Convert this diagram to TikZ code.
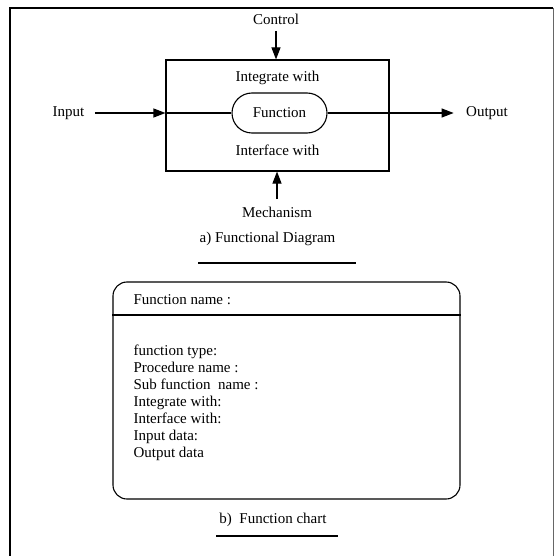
\documentclass[tikz,border=0pt]{standalone}
\usepackage{fontspec}
\setmainfont{Liberation Serif}
\usetikzlibrary{arrows.meta}
\usetikzlibrary{positioning}
\tikzset{tip/.style = {-{Triangle[length=12pt, width=9pt]}}}
\tikzset{lbl/.style = {inner sep = 0, font = \fontsize{15}{17}\selectfont}}
\tikzset{fbox/.style = {draw, line width = 1.1pt}}
\tikzset{uline/.style = {line width = 2.5pt}}

\begin{document}
\begin{tikzpicture}[x=1pt, y=-1pt, line width=1.1pt]
  \useasboundingbox (0, 0) rectangle (554, 556);
  % outer frame
  \draw [line width=1.5pt] (10, 560) -- (10, 8) -- (553, 8);
  \draw [line width=0.8pt, black!60] (553, 8) -- (553, 560);

  % a) functional diagram
  \node [fbox, minimum width=223, minimum height=111] (box) at (277.5, 115.5) {};
  \node [fbox, lbl, rounded corners=20, minimum width=95, minimum height=40] (fn) at (279.5, 113) {Function};
  \node [lbl] (integ) at (277.5, 78) {Integrate with};
  \node [lbl] (iface) at (277.5, 150) {Interface with};
  \node [lbl] (control) at (276, 19) {Control};
  \node [lbl] (mech) at (277, 212) {Mechanism};
  \node [lbl] (input) at (68.5, 113) {Input};
  \node [lbl] (output) at (487, 113) {Output};
  \coordinate (inleft) at (box.west |- fn.center);

  \draw [tip, shorten <=10pt] (input.east) -- (inleft);
  \draw (inleft) -- (fn.west);
  \draw [tip, shorten >=12pt] (fn.east) -- (output.west);
  \draw [tip, shorten <=6pt] (control.south) -- (control.south |- box.north);
  \draw [tip, shorten <=7pt] (mech.north) -- (mech.north |- box.south);

  \node [lbl] (capa) at (267.5, 239) {a) Functional Diagram};
  \draw [uline] (198, 263) -- (356, 263);

  % b) function chart
  \node [fbox, rounded corners=14, minimum width=347, minimum height=217] (chart) at (286.5, 390.5) {};
  \coordinate (div) at (0, 315);
  \draw (chart.west |- div) -- (chart.east |- div);
  \node [lbl, anchor=west] (fname) at (133, 300) {Function name :};
  \foreach \i/\t in {0/function type:, 1/Procedure name :, 2/Sub function~ name :,
                     3/Integrate with:, 4/Interface with:, 5/Input data:, 6/Output data} {
    \node [lbl, anchor=base west] (l\i) at (133, 355 + 17*\i) {\t};
  }

  \node [lbl] (capb) at (273, 520) {b)~~Function chart};
  \draw [uline] (216, 536) -- (338, 536);
\end{tikzpicture}
\end{document}
